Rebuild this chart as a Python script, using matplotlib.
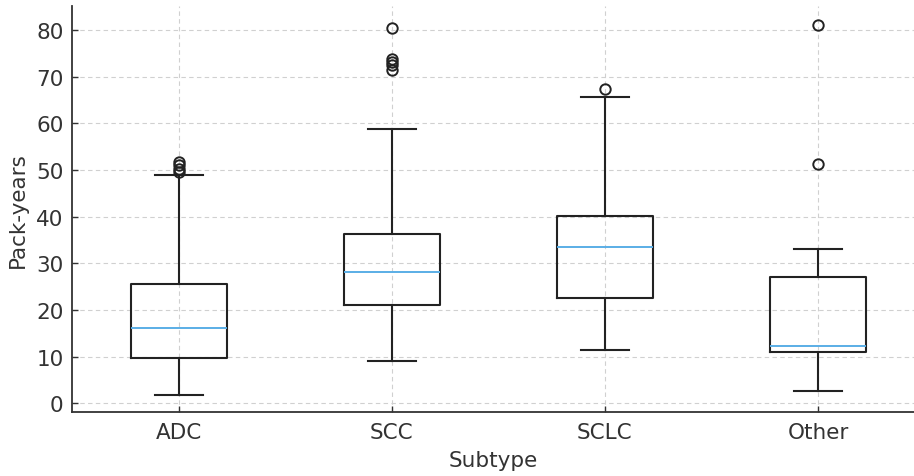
import matplotlib.pyplot as plt

subtypes = ["ADC", "SCC", "SCLC", "Other"]
whislo = [1.7, 9.0, 11.4, 2.6]
q1 = [9.7, 21.0, 22.5, 10.9]
med = [16.1, 28.1, 33.5, 12.2]
q3 = [25.5, 36.3, 40.1, 27.0]
whishi = [48.9, 58.8, 65.7, 33.0]
fliers = [
    [49.5, 50.2, 51.0, 51.8],
    [71.5, 72.5, 73.2, 73.8, 80.4],
    [67.4],
    [51.3, 81.1],
]

stats = []
for i, name in enumerate(subtypes):
    stats.append({
        "label": name,
        "whislo": whislo[i],
        "q1": q1[i],
        "med": med[i],
        "q3": q3[i],
        "whishi": whishi[i],
        "fliers": fliers[i],
    })

txt = "#333333"
plt.rcParams["font.family"] = "DejaVu Sans"

fig = plt.figure(figsize=(9.14, 4.77), dpi=100)
ax = fig.add_axes([72 / 914, 64 / 477, 842 / 914, 406 / 477])

lw = 1.5
ax.bxp(stats, widths=0.45,
       boxprops=dict(color="#222222", linewidth=lw),
       whiskerprops=dict(color="#222222", linewidth=lw),
       capprops=dict(color="#222222", linewidth=lw),
       medianprops=dict(color="#5aaee6", linewidth=1.4),
       flierprops=dict(marker="o", markerfacecolor="none",
                       markeredgecolor="#222222", markersize=7.5,
                       markeredgewidth=1.4))

ax.set_xlim(0.5, 4.45)
ax.set_ylim(-1.9, 85.2)
ax.set_yticks(range(0, 81, 10))

ax.grid(True, linestyle=(0, (4, 3)), color="#d0d0d0", linewidth=0.8)
ax.set_axisbelow(True)
for s in ["top", "right"]:
    ax.spines[s].set_visible(False)
for s in ["left", "bottom"]:
    ax.spines[s].set_color("#333333")
    ax.spines[s].set_linewidth(1.3)

ax.tick_params(direction="in", length=4, width=1, colors="#333333",
               labelsize=15.5, labelcolor=txt)
ax.tick_params(axis="x", pad=7)
ax.tick_params(axis="y", pad=6)
ax.set_xlabel("Subtype", fontsize=15.5, color=txt, labelpad=6)
ax.set_ylabel("Pack-years", fontsize=15.5, color=txt, labelpad=6)

fig.savefig("out.png", dpi=100)
